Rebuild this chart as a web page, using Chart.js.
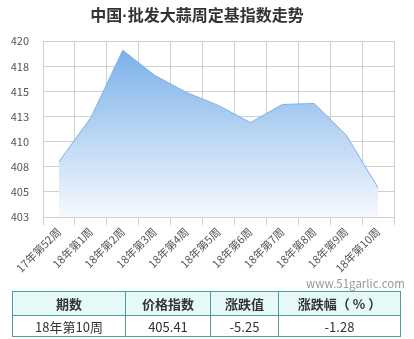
<!DOCTYPE html>
<html>
<head>
<meta charset="utf-8">
<script src="https://cdn.jsdelivr.net/npm/chart.js@4"></script>
<style>
  body { margin: 0; background: #fff; font-family: "Noto Sans CJK SC", sans-serif; }
  #wrap { position: absolute; left: 0; top: 0; width: 414px; height: 280px; }
  #mark { position: absolute; left: 306px; top: 275px; font-size: 11.5px; color: #999; }
  table { position: absolute; left: 12px; top: 291px; width: 389px; border-collapse: collapse; font-size: 13px; color: #333; }
  td, th { border: 1px solid #4a9e9e; text-align: center; padding: 0; }
  th { background: #e6f9f9; height: 23px; font-weight: bold; }
  td { height: 20px; }
</style>
</head>
<body>
<div id="wrap"><canvas id="chart"></canvas></div>
<div id="mark">www.51garlic.com</div>
<table>
  <tr><th style="width:112px">期数</th><th style="width:84px">价格指数</th><th style="width:67px">涨跌值</th><th>涨跌幅（ % ）</th></tr>
  <tr><td>18年第10周</td><td>405.41</td><td>-5.25</td><td>-1.28</td></tr>
</table>
<script>
var weeks = ['17年第52周', '18年第1周', '18年第2周', '18年第3周', '18年第4周', '18年第5周',
             '18年第6周', '18年第7周', '18年第8周', '18年第9周', '18年第10周'];
var indexValues = [408.0, 412.4, 419.1, 416.6, 414.9, 413.6, 411.9, 413.7, 413.8, 410.66, 405.41];
var yMin = 402.5, yMax = 420, yStep = 2.5;

var ctx = document.getElementById('chart').getContext('2d');

new Chart(ctx, {
    type: 'line',
    data: {
        labels: weeks,
        datasets: [{
            data: indexValues,
            borderColor: '#7ab2e8',
            borderWidth: 1,
            tension: 0,
            pointRadius: 0,
            fill: 'start',
            backgroundColor: function(c) {
                var area = c.chart.chartArea;
                if (!area) return 'rgba(122,178,234,0.6)';
                var g = c.chart.ctx.createLinearGradient(0, area.top, 0, area.bottom);
                g.addColorStop(0, '#74ade8');
                g.addColorStop(1, '#f6f9fe');
                return g;
            }
        }]
    },
    options: {
        responsive: true,
        maintainAspectRatio: false,
        animation: { duration: 0 },
        layout: { padding: { left: 0, right: 20, top: 0, bottom: 0 } },
        plugins: {
            legend: { display: false },
            tooltip: { enabled: false },
            title: {
                display: true,
                text: '中国·批发大蒜周定基指数走势',
                color: '#333',
                font: { size: 16, weight: 'bold', family: '"Liberation Sans", "Noto Sans CJK SC"' },
                padding: { top: 7, bottom: 15 }
            }
        },
        scales: {
            x: {
                offset: true,
                grid: { offset: true, color: '#d0d0d0', tickLength: 8 },
                border: { color: '#d0d0d0' },
                ticks: {
                    minRotation: 45, maxRotation: 45, autoSkip: false,
                    color: '#555', padding: 0,
                    font: { size: 11, family: '"Noto Sans CJK SC"' }
                },
                afterFit: function(s) { s.height = 63; }
            },
            y: {
                min: yMin, max: yMax,
                grid: { color: '#d0d0d0', tickLength: 0 },
                border: { color: '#d0d0d0' },
                ticks: {
                    stepSize: yStep, padding: 14, color: '#555',
                    font: { size: 11, family: '"Noto Sans CJK SC"' },
                    callback: function(v) { return Math.round(v); }
                },
                afterFit: function(s) { s.width = 43; }
            }
        }
    }
});
</script>
</body>
</html>
